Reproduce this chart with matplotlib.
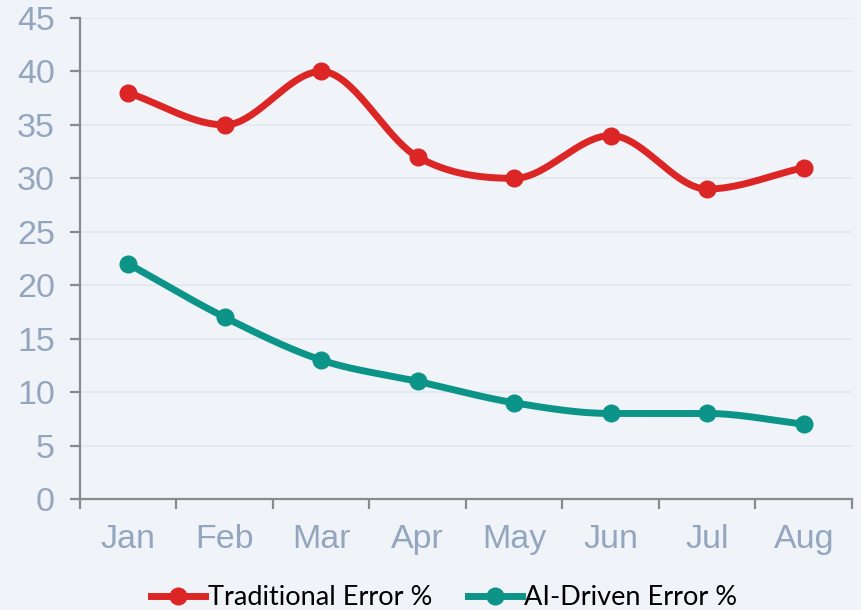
import numpy as np
import matplotlib
matplotlib.use("Agg")
import matplotlib.pyplot as plt

months = ["Jan", "Feb", "Mar", "Apr", "May", "Jun", "Jul", "Aug"]
traditional = [38, 35, 40, 32, 30, 34, 29, 31]
ai_driven = [22, 17, 13, 11, 9, 8, 8, 7]

RED = "#dc2626"
TEAL = "#0d9488"
BG = "#f0f4f9"
TICK_TXT = "#94a6bf"


def monotone(x, y, n=40):
    # Fritsch-Carlson monotone cubic, like chart.js "monotone"
    x = np.asarray(x, float)
    y = np.asarray(y, float)
    h = np.diff(x)
    d = np.diff(y) / h
    m = np.zeros_like(y)
    m[0], m[-1] = d[0], d[-1]
    for i in range(1, len(y) - 1):
        if d[i - 1] * d[i] <= 0:
            m[i] = 0
        else:
            m[i] = (d[i - 1] + d[i]) / 2
    for i in range(len(d)):
        if d[i] == 0:
            m[i] = m[i + 1] = 0
            continue
        a, b = m[i] / d[i], m[i + 1] / d[i]
        s = a * a + b * b
        if s > 9:
            t = 3 / np.sqrt(s)
            m[i], m[i + 1] = t * a * d[i], t * b * d[i]
    xs, ys = [], []
    for i in range(len(d)):
        t = np.linspace(0, 1, n)
        h00 = 2 * t**3 - 3 * t**2 + 1
        h10 = t**3 - 2 * t**2 + t
        h01 = -2 * t**3 + 3 * t**2
        h11 = t**3 - t**2
        xs.append(x[i] + t * h[i])
        ys.append(h00 * y[i] + h10 * h[i] * m[i] + h01 * y[i + 1] + h11 * h[i] * m[i + 1])
    return np.concatenate(xs), np.concatenate(ys)


fig = plt.figure(figsize=(8.61, 6.1), dpi=100, facecolor=BG)
ax = fig.add_axes([0.0929, 0.182, 0.8966, 0.7885], facecolor=BG)

x = np.arange(len(months))
for vals, col, lab in [(traditional, RED, "Traditional Error %"), (ai_driven, TEAL, "AI-Driven Error %")]:
    sx, sy = monotone(x, vals)
    ax.plot(sx, sy, color=col, lw=5, solid_capstyle="round", zorder=3)
    ax.plot(x, vals, "o", color=col, ms=12, zorder=4)
    ax.plot([], [], color=col, lw=5, marker="o", ms=12, label=lab)

ax.set_xlim(-0.5, len(months) - 0.5)
ax.set_ylim(0, 45)
ax.set_yticks(np.arange(0, 46, 5))
ax.set_xticks(np.arange(-0.5, len(months), 1))
ax.set_xticklabels([])
ax.set_xticks(x, minor=True)
ax.set_xticklabels(months, minor=True)
ax.grid(axis="y", color="#e1e7ef", lw=1.2, zorder=0)

for s in ["top", "right"]:
    ax.spines[s].set_visible(False)
for s in ["left", "bottom"]:
    ax.spines[s].set_color("#8a8a8a")
    ax.spines[s].set_linewidth(1.6)

ax.tick_params(axis="both", which="major", direction="out", length=7, width=1.6, color="#8a8a8a")
ax.tick_params(axis="y", labelsize=24.5, labelcolor=TICK_TXT, pad=11)
ax.tick_params(axis="x", which="minor", length=0, labelsize=24.5, labelcolor=TICK_TXT, pad=18)
for t in ax.get_xticklabels(minor=True) + ax.get_yticklabels():
    t.set_family(["Liberation Sans", "DejaVu Sans"])

fig.legend(loc="lower center", bbox_to_anchor=(0.516, -0.04), ncol=2, frameon=False,
           prop={"family": "Lato", "size": 19.5}, handlelength=2.0, handletextpad=0.1,
           columnspacing=1.3)

fig.savefig("out.png", dpi=100, facecolor=BG)
